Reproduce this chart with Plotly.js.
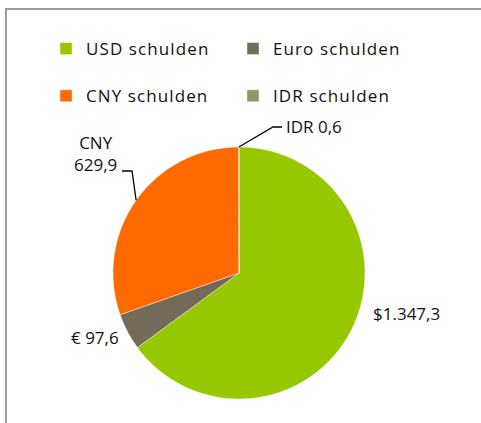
<!DOCTYPE html>
<html><head><meta charset="utf-8">
<script src="https://cdn.plot.ly/plotly-3.0.1.min.js"></script>
<style>html,body{margin:0;padding:0;background:#fff}
#chart .legendtext{letter-spacing:1.1px}</style>
</head><body><div id="chart" style="width:481px;height:423px"></div>
<script>
const categories = ["USD schulden", "Euro schulden", "CNY schulden", "IDR schulden"];
const values = [1347.3, 97.6, 629.9, 0.6];
const dataLabels = ["$1.347,3", "€ 97,6", "CNY<br>629,9", "IDR 0,6"];
const colors = ["#96C800", "#746A5A", "#FF6A00", "#939664"];

const W = 481, H = 423;
const px = x => x / W, py = y => 1 - y / H;
// pie geometry in pixels
const cx = 239, cy = 273, R = 126;
const FONT = "'Open Sans', Lato, sans-serif";

const total = values.reduce((a, b) => a + b, 0);
// mid angle (clockwise from 12 o'clock) of each slice
const mids = [];
let acc = 0;
values.forEach(v => { mids.push((acc + v / 2) / total * 2 * Math.PI); acc += v; });
const edge = i => [cx + R * Math.sin(mids[i]), cy - R * Math.cos(mids[i])];

// first legend row gets an extra blank line so rows are spaced like the original
const legendLabels = categories.map((c, i) => i < 2 ? c + "<br> " : c);

const pieTrace = {
  type: "pie",
  labels: legendLabels,
  values: values,
  sort: false,
  direction: "clockwise",
  rotation: 0,
  marker: { colors: colors, line: { color: "#ffffff", width: 0.4 } },
  textinfo: "none",
  hoverinfo: "value",
  domain: { x: [px(cx - R), px(cx + R)], y: [py(cy + R), py(cy - R)] },
  showlegend: true
};

const labelPos = [
  [406, 313],
  [95, 337],
  [95, 153],
  [314, 126]
];
const annotations = dataLabels.map((t, i) => ({
  xref: "paper", yref: "paper",
  x: px(labelPos[i][0]), y: py(labelPos[i][1]),
  xanchor: "center", yanchor: "middle",
  text: t, showarrow: false, align: "center",
  font: { family: FONT, size: 17, color: "#111" }
}));

const eC = edge(2), eI = edge(3);
const shapes = [
  { type: "rect", xref: "paper", yref: "paper", x0: px(6), x1: px(490), y0: py(9), y1: py(440),
    line: { color: "#9a9a9a", width: 2 }, fillcolor: "rgba(0,0,0,0)" },
  { type: "path", xref: "paper", yref: "paper",
    path: `M${px(122)},${py(171)} L${px(132)},${py(171)} L${px(eC[0])},${py(eC[1])}`,
    line: { color: "#000", width: 1.3 } },
  { type: "path", xref: "paper", yref: "paper",
    path: `M${px(eI[0])},${py(eI[1])} L${px(273)},${py(127)} L${px(282)},${py(127)}`,
    line: { color: "#000", width: 1.3 } }
];

const layout = {
  width: W, height: H,
  margin: { l: 0, r: 0, t: 0, b: 0 },
  paper_bgcolor: "#ffffff",
  showlegend: true,
  legend: {
    orientation: "h", x: px(46), y: py(31), xanchor: "left", yanchor: "top",
    entrywidth: 142, entrywidthmode: "pixels", valign: "top",
    font: { family: FONT, size: 17, color: "#111" },
    traceorder: "normal", bgcolor: "rgba(0,0,0,0)"
  },
  annotations: annotations,
  shapes: shapes
};

Plotly.newPlot("chart", [pieTrace], layout, { displayModeBar: false, staticPlot: true });
</script></body></html>
